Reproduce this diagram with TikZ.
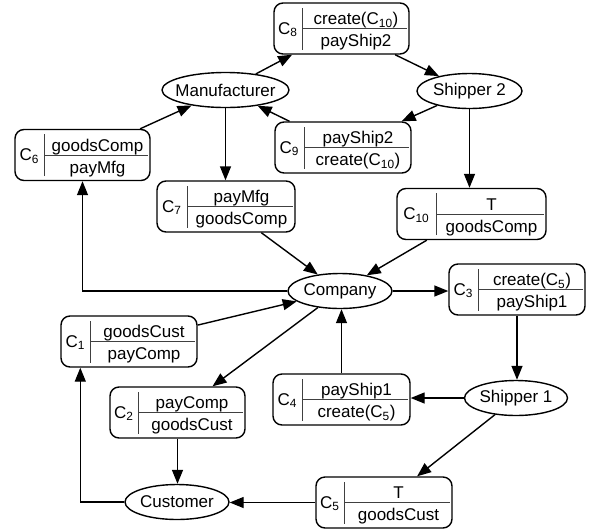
\documentclass[tikz,border=0pt]{standalone}
\usepackage{fontspec}
\setmainfont{Liberation Sans}
\usetikzlibrary{arrows.meta,shapes.geometric,calc}

\tikzset{
 ell/.style={draw, ellipse, line width=1.4pt, minimum height=35pt, inner sep=0pt},
 cb/.style={draw, rounded corners=9pt, line width=1.4pt, minimum height=51pt, inner sep=0pt},
 sepline/.style={line width=0.9pt, black!75},
 arr/.style={line width=1.4pt, -{Triangle[length=14pt,width=11pt]}},
 txt/.style={inner sep=0pt},
}

\newcommand\cbox[7]{% name, position, total width, label width, index, top, bottom
 \node[cb, minimum width=#3pt] (#1) at #2 {};
 \coordinate (#1-d) at ($(#1.west)+(#4pt,0pt)$);
 \draw[sepline] ($(#1-d)+(0pt,-21pt)$) -- ($(#1-d)+(0pt,21pt)$);
 \draw[sepline] (#1-d) -- ($(#1.east)+(-3pt,0pt)$);
 \node[txt] (#1-l) at ($(#1.west)+(#4pt/2,-1pt)$) {C\textsubscript{#5}};
 \node[txt, anchor=base] (#1-t) at ($(#1-d)!0.5!(#1.east)+(0pt,4pt)$) {#6};
 \node[txt, anchor=base] (#1-b) at ($(#1-d)!0.5!(#1.east)+(0pt,-18pt)$) {#7};
}

\begin{document}
\begin{tikzpicture}[x=1pt, y=-1pt, font=\fontsize{17}{20}\selectfont]
\useasboundingbox (0,0) rectangle (589,531);

% agents
\node[ell, minimum width=127pt, label=center:Manufacturer] (man) at (225.5,90) {};
\node[ell, minimum width=105pt, label=center:Shipper 2] (s2) at (469.5,91) {};
\node[ell, minimum width=104pt, label=center:Company] (comp) at (340,291) {};
\node[ell, minimum width=103pt, label=center:Shipper 1] (s1) at (516,398) {};
\node[ell, minimum width=104pt, label=center:Customer] (cust) at (177,502) {};

% commitments
\cbox{c8}{(341.5,28.5)}{135}{29}{8}{create(C\textsubscript{10})}{payShip2}
\cbox{c9}{(343,147.5)}{136}{30}{9}{payShip2}{create(C\textsubscript{10})}
\cbox{c6}{(82.5,155)}{135}{30}{6}{goodsComp}{payMfg}
\cbox{c7}{(226,206.5)}{138}{31}{7}{payMfg}{goodsComp}
\cbox{c10}{(471.5,214)}{149}{40}{10}{T}{goodsComp}
\cbox{c3}{(517,289.5)}{136}{30}{3}{create(C\textsubscript{5})}{payShip1}
\cbox{c1}{(129,341.5)}{136}{30}{1}{goodsCust}{payComp}
\cbox{c2}{(177.5,412.5)}{135}{29}{2}{payComp}{goodsCust}
\cbox{c4}{(341.5,399.5)}{137}{30}{4}{payShip1}{create(C\textsubscript{5})}
\cbox{c5}{(384,502.5)}{136}{29}{5}{T}{goodsCust}

% connectors
\draw[arr] (man) -- (c8);
\draw[arr] (c8) -- (s2);
\draw[arr] (s2) -- (c9);
\draw[arr] (c9) -- (man);
\draw[arr] (c6) -- (man);
\draw[arr] (man.south) -- (man.south |- c7.north);
\draw[arr] (c7) -- (comp);
\draw[arr] (s2.south) -- (s2.south |- c10.north);
\draw[arr] (c10) -- (comp);
\draw[arr] (comp.west) -| (c6.south);
\draw[arr] (comp.east) -- (comp.east -| c3.west);
\draw[arr] (c3.south) -- (c3.south |- s1.north);
\draw[arr] (s1.west) -- (s1.west -| c4.east);
\draw[arr] (c4.north) -- (c4.north |- comp.south);
\draw[arr] (c1) -- (comp);
\draw[arr] (comp) -- (c2);
\draw[arr] (c2.south) -- (c2.south |- cust.north);
\draw[arr] (s1) -- (c5);
\draw[arr] (c5.west) -- (c5.west -| cust.east);
\draw[arr] (cust.west) -| ([xshift=20pt]c1.south west);
\end{tikzpicture}
\end{document}
